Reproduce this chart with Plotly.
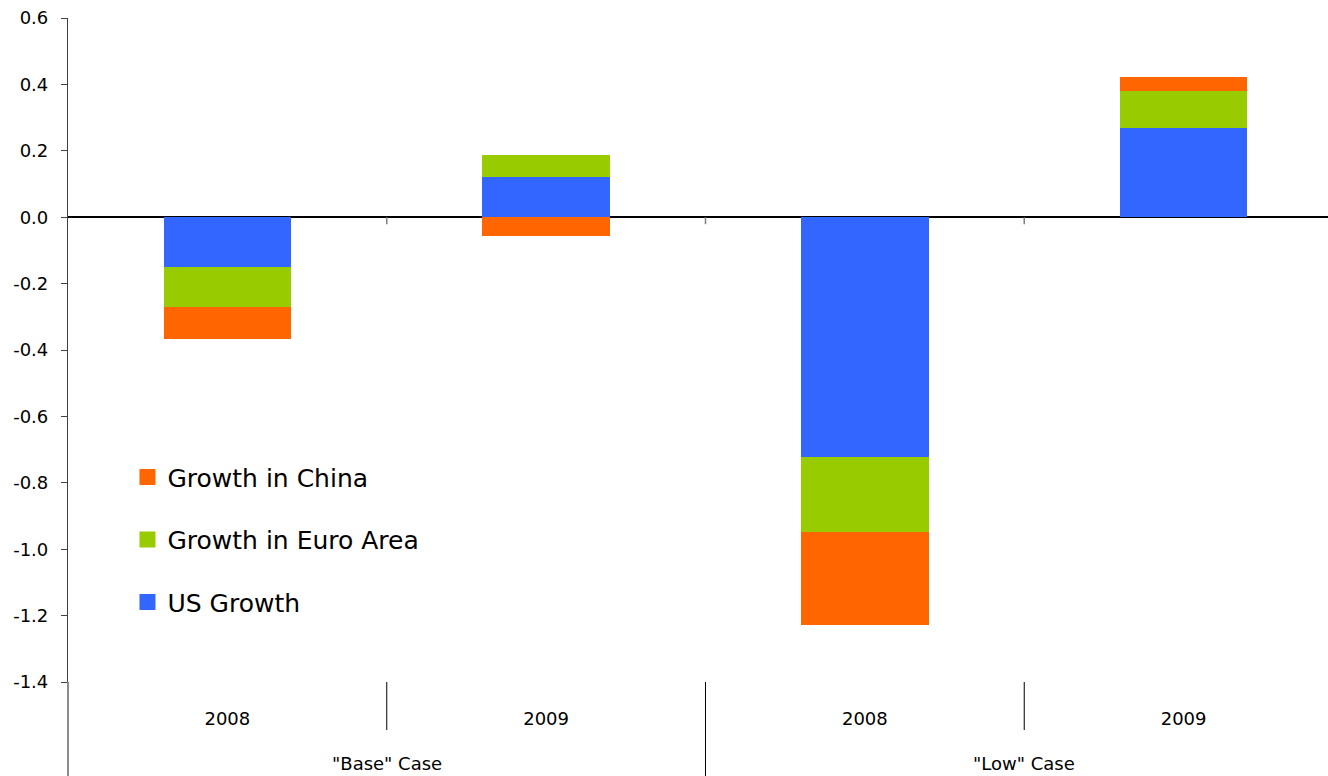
import plotly.graph_objects as go

# ---- data ----
categories = [0, 1, 2, 3]
year_labels = ["2008", "2009", "2008", "2009"]
case_labels = ['"Base" Case', '"Low" Case']
us_growth = [-0.15, 0.12, -0.723, 0.268]
euro_growth = [-0.12, 0.067, -0.226, 0.112]
china_growth = [-0.097, -0.057, -0.28, 0.042]
y_tickvals = [0.6, 0.4, 0.2, 0.0, -0.2, -0.4, -0.6, -0.8, -1.0, -1.2, -1.4]
y_ticktext = ["0.6", "0.4", "0.2", "0.0", "-0.2", "-0.4", "-0.6", "-0.8", "-1.0", "-1.2", "-1.4"]

C_US = "#3366FF"
C_EU = "#99CC00"
C_CN = "#FF6600"
FONT = "DejaVu Sans"

fig = go.Figure()
for name, vals, col in [("US Growth", us_growth, C_US),
                        ("Growth in Euro Area", euro_growth, C_EU),
                        ("Growth in China", china_growth, C_CN)]:
    fig.add_trace(go.Bar(x=categories, y=vals, name=name, marker_color=col,
                         marker_line_width=0, width=0.4, showlegend=False))

# legend entries (square swatches)
for name, col in [("Growth in China", C_CN), ("Growth in Euro Area", C_EU), ("US Growth", C_US)]:
    fig.add_trace(go.Scatter(x=[None], y=[None], mode="markers", name=name,
                             legendgroup=name,
                             marker=dict(symbol="square", size=16, color=col)))

shapes = []
# small ticks on the zero line at category boundaries
for b in [0.5, 1.5, 2.5]:
    shapes.append(dict(type="line", xref="x", yref="y", ysizemode="pixel", yanchor=0,
                       x0=b, x1=b, y0=0, y1=-7, line=dict(color="#808080", width=1.5)))
# separators below the axis
for b, y1 in [(0.5, -0.0723), (1.5, -0.1416), (2.5, -0.0723)]:
    shapes.append(dict(type="line", xref="x", yref="paper", x0=b, x1=b, y0=0, y1=y1,
                       line=dict(color="#000000", width=1)))
# y-axis line extension
shapes.append(dict(type="line", xref="paper", yref="paper", x0=0, x1=0, y0=0, y1=-0.1416,
                   line=dict(color="#404040", width=1.2)))

annotations = []
for xpos, lab in zip([0.5, 2.5], case_labels):
    annotations.append(dict(x=xpos, y=-0.122, xref="x", yref="paper", text=lab,
                            showarrow=False, yanchor="middle", xanchor="center",
                            font=dict(family=FONT, size=18, color="#000")))

fig.update_layout(
    width=1328, height=776,
    margin=dict(l=68, r=0, t=18, b=94),
    paper_bgcolor="white", plot_bgcolor="white",
    barmode="relative", bargap=0,
    font=dict(family=FONT, size=18, color="#000"),
    showlegend=True,
    legend=dict(x=0.0472, y=0.343, xanchor="left", yanchor="top",
                font=dict(family=FONT, size=25, color="#000"),
                traceorder="grouped", tracegroupgap=27,
                bgcolor="rgba(0,0,0,0)"),
    shapes=shapes,
    annotations=annotations,
    xaxis=dict(range=[-0.5, 3.453], tickvals=categories, ticktext=year_labels,
               showgrid=False, zeroline=False, showline=False, ticks="",
               ticklabelstandoff=24,
               tickfont=dict(family=FONT, size=18, color="#000"), fixedrange=True),
    yaxis=dict(range=[-1.4, 0.6], tickvals=y_tickvals, ticktext=y_ticktext,
               showgrid=False, zeroline=True, zerolinecolor="#000", zerolinewidth=1.5,
               showline=True, linecolor="#404040", linewidth=1.2,
               ticks="outside", ticklen=6, tickcolor="#404040", tickwidth=1.2,
               ticklabelstandoff=9,
               tickfont=dict(family=FONT, size=18, color="#000")),
)

fig.write_html("out.html")
